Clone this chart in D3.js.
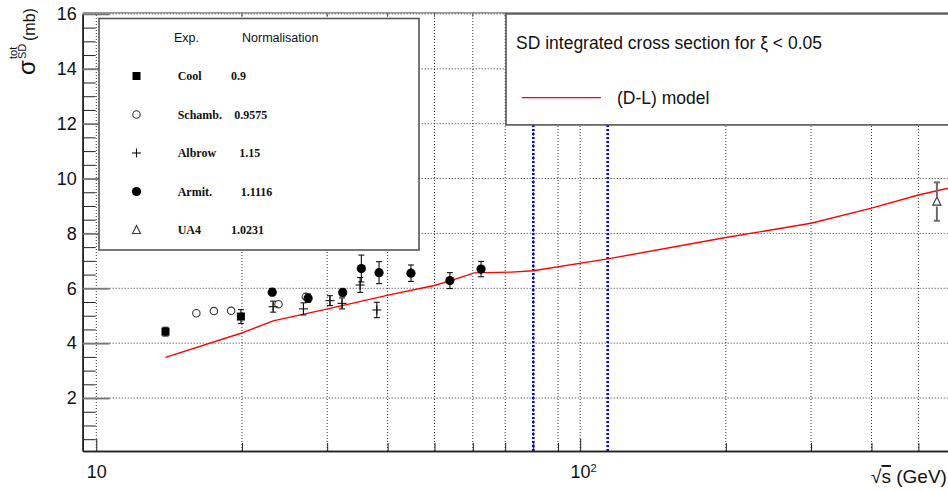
<!DOCTYPE html>
<html><head><meta charset="utf-8">
<script src="https://cdn.jsdelivr.net/npm/d3@7"></script>
<style>
html,body{margin:0;padding:0;background:#fff;overflow:hidden}
svg{display:block}
text{font-family:"Liberation Sans",Arial,Helvetica,sans-serif}
</style></head>
<body><svg id="chart" width="948" height="493"></svg>
<script>
// Single-diffractive integrated cross section (xi < 0.05) versus sqrt(s)

// Cool et al.
const coolS = [13.9, 19.9];
const coolV = [4.42, 4.97];
const coolErr = [0.16, 0.25];

// Schamberger et al.
const schambS = [16.1, 17.5, 19.0, 23.8, 27.1];
const schambV = [5.09, 5.17, 5.18, 5.42, 5.69];

// Albrow et al.
const albrowS = [23.2, 26.8, 30.4, 32.2, 35.1, 38.0];
const albrowV = [5.33, 5.25, 5.55, 5.45, 6.12, 5.21];
const albrowErr = [0.20, 0.22, 0.18, 0.20, 0.27, 0.28];

// Armitage et al.
const armitS = [23.1, 27.4, 32.3, 35.3, 38.4, 44.7, 53.8, 62.4];
const armitV = [5.86, 5.64, 5.85, 6.72, 6.57, 6.55, 6.28, 6.70];
const armitErr = [0.13, 0.15, 0.13, 0.49, 0.40, 0.30, 0.29, 0.28];

// UA4
const ua4S = [546];
const ua4V = [9.16];
const ua4Err = [0.70];

// Donnachie-Landshoff model curve
const modelS = [13.9, 19.9, 23.2, 30.4, 39.9, 49.9, 53.8, 60.4, 72, 80, 114, 200, 300, 400, 500, 600];
const modelV = [3.48, 4.36, 4.81, 5.27, 5.74, 6.10, 6.27, 6.56, 6.59, 6.64, 7.07, 7.85, 8.37, 8.92, 9.40, 9.72];

// vertical reference lines (GeV)
const cutS = [80, 114];

// axis ticks
const xMajorTicks = [10, 100];
const xMinorTicks = [20, 30, 40, 50, 60, 70, 80, 90, 200, 300, 400, 500, 600, 700];
const yMajorTicks = [2, 4, 6, 8, 10, 12, 14, 16];
const yMinorTicks = [0.5, 1, 1.5, 2.5, 3, 3.5, 4.5, 5, 5.5, 6.5, 7, 7.5, 8.5, 9, 9.5,
                     10.5, 11, 11.5, 12.5, 13, 13.5, 14.5, 15, 15.5];

// legend content
const expNames = ["Cool", "Schamb.", "Albrow", "Armit.", "UA4"];
const expNorms = ["0.9", "0.9575", "1.15", "1.1116", "1.0231"];
const boxTitle = "SD integrated cross section for \u03BE < 0.05";
const modelLabel = "(D-L) model";

const svg = d3.select("#chart");
const plotL = 82.7, plotR = 990, plotT = 13.9, plotB = 451;

const x = d3.scaleLog().domain([9.374, 703]).range([plotL, plotR]);
const y = d3.scaleLinear().domain([0.07, 16]).range([plotB, plotT]);

const dotted = "1,2";

// grid
const grid = svg.append("g");
grid.selectAll("line.gx").data(xMajorTicks.concat(xMinorTicks)).join("line")
  .attr("x1", d => x(d)).attr("x2", d => x(d))
  .attr("y1", plotB).attr("y2", plotT)
  .attr("stroke", "#333").attr("stroke-width", 1).attr("stroke-dasharray", dotted);
grid.selectAll("line.gy").data(yMajorTicks).join("line")
  .attr("x1", plotL).attr("x2", plotR)
  .attr("y1", d => y(d)).attr("y2", d => y(d))
  .attr("stroke", "#333").attr("stroke-width", 1).attr("stroke-dasharray", dotted);

// blue reference lines
svg.append("g").selectAll("line").data(cutS).join("line")
  .attr("x1", d => x(d)).attr("x2", d => x(d))
  .attr("y1", plotB).attr("y2", plotT)
  .attr("stroke", "#0000ff").attr("stroke-width", 2.6).attr("stroke-dasharray", "2,2");

// top frame
svg.append("line").attr("x1", plotL).attr("x2", plotR).attr("y1", plotT - 1).attr("y2", plotT - 1)
  .attr("stroke", "#555").attr("stroke-width", 1);

// x axis (bottom), ticks pointing inward
const xMinorAxis = d3.axisBottom(x).tickValues(xMinorTicks).tickSizeInner(-8).tickSizeOuter(0).tickFormat("");
const gxm = svg.append("g").attr("transform", `translate(0,${plotB})`).call(xMinorAxis);
const xMajorAxis = d3.axisBottom(x).tickValues(xMajorTicks).tickSizeInner(-12).tickSizeOuter(0)
  .tickPadding(14).tickFormat(d => "10");
const gx = svg.append("g").attr("transform", `translate(0,${plotB})`).call(xMajorAxis);
[gx, gxm].forEach(g => {
  g.select(".domain").attr("stroke", "#222").attr("stroke-width", 1.6);
  g.selectAll(".tick line").attr("stroke", "#222").attr("stroke-width", 1);
});
gx.selectAll(".tick text").attr("fill", "#111").style("font-size", "18px")
  .attr("dy", "0.71em")
  .each(function (d) {
    if (d === 100) {
      d3.select(this).attr("dx", 3)
        .append("tspan").attr("dy", "-0.55em").style("font-size", "11px").text("2");
    }
  });

// y axis, ticks pointing inward
const yMinorAxis = d3.axisLeft(y).tickValues(yMinorTicks).tickSizeInner(-13).tickSizeOuter(0).tickFormat("");
const gym = svg.append("g").attr("transform", `translate(${plotL},0)`).call(yMinorAxis);
const yMajorAxis = d3.axisLeft(y).tickValues(yMajorTicks).tickSizeInner(-27).tickSizeOuter(0).tickPadding(6);
const gy = svg.append("g").attr("transform", `translate(${plotL},0)`).call(yMajorAxis);
gym.select(".domain").attr("stroke", "#222").attr("stroke-width", 1.6);
gym.selectAll(".tick line").attr("stroke", "#222").attr("stroke-width", 1);
gy.select(".domain").attr("stroke", "#222").attr("stroke-width", 1.6);
gy.selectAll(".tick line").attr("stroke", "#777").attr("stroke-width", 1.8);
gy.selectAll(".tick text").attr("fill", "#111").style("font-size", "18px");

// top frame small ticks
svg.append("g").selectAll("line").data(xMinorTicks).join("line")
  .attr("x1", d => x(d)).attr("x2", d => x(d))
  .attr("y1", plotT - 1).attr("y2", plotT + 3)
  .attr("stroke", "#555").attr("stroke-width", 1);

// model curve
const modelPts = modelS.map((s, i) => [s, modelV[i]]);
svg.append("path").datum(modelPts)
  .attr("d", d3.line().x(d => x(d[0])).y(d => y(d[1])))
  .attr("fill", "none").attr("stroke", "#ff0000").attr("stroke-width", 1.4);

// marker drawing helpers
function errBar(g, cx, v, e, col, w, gap) {
  const yt = y(v + e), yb = y(v - e), yc = y(v);
  g.append("line").attr("x1", cx).attr("x2", cx).attr("y1", yt).attr("y2", yc - gap)
    .attr("stroke", col).attr("stroke-width", w);
  g.append("line").attr("x1", cx).attr("x2", cx).attr("y1", yc + gap).attr("y2", yb)
    .attr("stroke", col).attr("stroke-width", w);
  [yt, yb].forEach(yy => g.append("line").attr("x1", cx - 3).attr("x2", cx + 3)
    .attr("y1", yy).attr("y2", yy).attr("stroke", col).attr("stroke-width", w));
}
const markers = {
  square: (g, cx, cy) => g.append("rect").attr("x", cx - 4).attr("y", cy - 4)
    .attr("width", 8).attr("height", 8).attr("fill", "#000"),
  circleOpen: (g, cx, cy) => g.append("circle").attr("cx", cx).attr("cy", cy).attr("r", 3.7)
    .attr("fill", "#fff").attr("stroke", "#333").attr("stroke-width", 1.1),
  plus: (g, cx, cy) => {
    g.append("line").attr("x1", cx - 4.5).attr("x2", cx + 4.5).attr("y1", cy).attr("y2", cy)
      .attr("stroke", "#111").attr("stroke-width", 1.1);
    g.append("line").attr("x1", cx).attr("x2", cx).attr("y1", cy - 4.5).attr("y2", cy + 4.5)
      .attr("stroke", "#111").attr("stroke-width", 1.1);
  },
  circleFill: (g, cx, cy) => g.append("circle").attr("cx", cx).attr("cy", cy).attr("r", 4.6)
    .attr("fill", "#000"),
  triangleOpen: (g, cx, cy) => g.append("path")
    .attr("d", `M${cx},${cy - 4.5}L${cx + 4},${cy + 3.5}L${cx - 4},${cy + 3.5}Z`)
    .attr("fill", "#fff").attr("stroke", "#333").attr("stroke-width", 1.1)
};

const data = svg.append("g");
// Schamberger
schambS.forEach((s, i) => markers.circleOpen(data, x(s), y(schambV[i])));
// Albrow
albrowS.forEach((s, i) => {
  errBar(data, x(s), albrowV[i], albrowErr[i], "#111", 1.1, 0);
  markers.plus(data, x(s), y(albrowV[i]));
});
// Cool
coolS.forEach((s, i) => {
  errBar(data, x(s), coolV[i], coolErr[i], "#111", 1.1, 0);
  markers.square(data, x(s), y(coolV[i]));
});
// Armitage
armitS.forEach((s, i) => {
  errBar(data, x(s), armitV[i], armitErr[i], "#111", 1.1, 0);
  markers.circleFill(data, x(s), y(armitV[i]));
});
// UA4
ua4S.forEach((s, i) => {
  errBar(data, x(s), ua4V[i], ua4Err[i], "#6a6a6a", 2, 5);
  markers.triangleOpen(data, x(s), y(ua4V[i]));
});

// experiment legend
const lg = svg.append("g");
lg.append("rect").attr("x", 99).attr("y", 18.5).attr("width", 320).attr("height", 231.5)
  .attr("fill", "#fff").attr("stroke", "#555").attr("stroke-width", 1.6);
lg.append("text").attr("x", 174).attr("y", 41.5).style("font-size", "12.5px").attr("fill", "#111").text("Exp.");
lg.append("text").attr("x", 242).attr("y", 41.5).style("font-size", "12.5px").attr("fill", "#111").text("Normalisation");
const legMarkers = [markers.square, markers.circleOpen, markers.plus, markers.circleFill, markers.triangleOpen];
const normDx = [0, 3.3, 8.3, 9.7, 0];
expNames.forEach((name, i) => {
  const cy = 76 + i * 38.5;
  legMarkers[i](lg, 136.5, cy);
  lg.append("text").attr("x", 177.7).attr("y", cy + 4)
    .style("font-family", "'Liberation Serif','Times New Roman',serif")
    .style("font-weight", "bold").style("font-size", "12px").attr("fill", "#111").text(name);
  lg.append("text").attr("x", 231 + normDx[i]).attr("y", cy + 4)
    .style("font-family", "'Liberation Serif','Times New Roman',serif")
    .style("font-weight", "bold").style("font-size", "12px").attr("fill", "#111").text(expNorms[i]);
});

// title / model legend box
const tb = svg.append("g");
tb.append("rect").attr("x", 506).attr("y", plotT).attr("width", 500).attr("height", 111)
  .attr("fill", "#fff").attr("stroke", "#555").attr("stroke-width", 1.6);
tb.append("text").attr("x", 516).attr("y", 49).style("font-size", "17.5px").attr("fill", "#111").text(boxTitle);
tb.append("line").attr("x1", 522).attr("x2", 601).attr("y1", 97.7).attr("y2", 97.7)
  .attr("stroke", "#ff0000").attr("stroke-width", 1.2);
tb.append("text").attr("x", 617).attr("y", 103.5).style("font-size", "17.5px").attr("fill", "#111").text(modelLabel);

// y axis title: sigma with stacked super/subscript, then unit
const yl = svg.append("g").attr("transform", "translate(35,75) rotate(-90)").attr("fill", "#111");
yl.append("text").attr("x", 0).attr("y", 0).style("font-size", "24px").text("\u03C3");
yl.append("text").attr("x", 16).attr("y", -18).style("font-size", "11px").text("tot");
yl.append("text").attr("x", 16).attr("y", -9).style("font-size", "11px").text("SD");
yl.append("text").attr("x", 34).attr("y", 0).style("font-size", "16px").text("(mb)");

// x axis title
const xt = svg.append("text").attr("x", 871).attr("y", 483).style("font-size", "19px").attr("fill", "#111");
xt.append("tspan").text("\u221A");
xt.append("tspan").style("text-decoration", "overline").text("s");
xt.append("tspan").text(" (GeV)");
</script>
</body></html>
